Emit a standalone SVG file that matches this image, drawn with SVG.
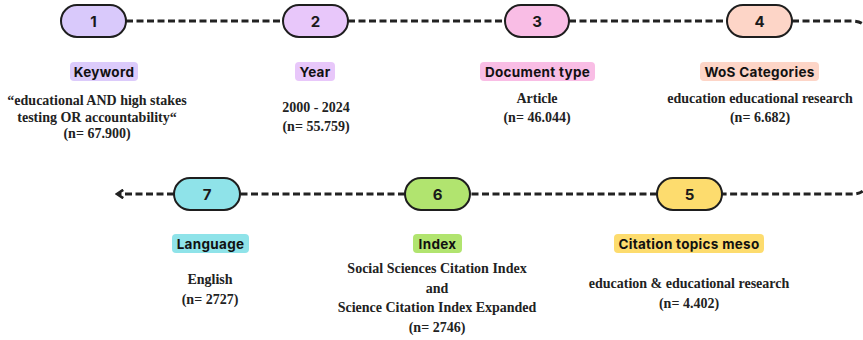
<svg xmlns="http://www.w3.org/2000/svg" width="863" height="340" viewBox="0 0 863 340">
<style>
.pill{stroke:#1e1e1e;stroke-width:2}
.num{font-family:Inter,"Noto Sans",sans-serif;font-weight:700;font-size:15px;fill:#1a1a1a;text-anchor:middle;dominant-baseline:central}
.lab{font-family:Inter,"Noto Sans",sans-serif;font-weight:700;font-size:13.5px;letter-spacing:0.3px;fill:#111;text-anchor:middle;dominant-baseline:central}
.body{font-family:"Liberation Serif",serif;font-weight:700;font-size:14px;fill:#222;text-anchor:middle}
.conn{fill:none;stroke:#222;stroke-width:3;stroke-dasharray:7 3.5}
</style>
<defs>
<marker id="arr" viewBox="0 0 10 10" refX="7" refY="5" markerWidth="3.5" markerHeight="3.5" orient="auto" markerUnits="strokeWidth">
<path d="M2 1 L8 5 L2 9" fill="none" stroke="#222" stroke-width="2.5"/>
</marker>
</defs>
<rect width="863" height="340" fill="#fff"/>
<g id="connectors">
<path class="conn" d="M126 21 H283 M348 21 H505 M569 21 H727"/>
<path class="conn" d="M792 21 H852 Q868 21 868 37 V178 Q868 194 852 194 H722"/>
<path class="conn" d="M657 194 H470 M405 194 H240"/>
<path class="conn" d="M174 194 H118" marker-end="url(#arr)"/>
</g>
<g id="node1">
<rect class="pill" x="61" y="5" width="65" height="32" rx="16" fill="#d9c9fb"/>
<text class="num" x="93.5" y="21">1</text>
<rect x="70" y="62" width="68" height="19" rx="4" fill="#dccbfb"/>
<text class="lab" x="104" y="71.5">Keyword</text>
<text class="body" x="97" y="105">“educational AND high stakes</text>
<text class="body" x="97" y="122">testing OR accountability“</text>
<text class="body" x="97" y="138">(n= 67.900)</text>
</g>
<g id="node2">
<rect class="pill" x="283" y="5" width="65" height="32" rx="16" fill="#e8c7fa"/>
<text class="num" x="315.5" y="21">2</text>
<rect x="295" y="62" width="40" height="19" rx="4" fill="#e8c7fa"/>
<text class="lab" x="315" y="71.5">Year</text>
<text class="body" x="316" y="112">2000 - 2024</text>
<text class="body" x="316" y="131">(n= 55.759)</text>
</g>
<g id="node3">
<rect class="pill" x="505" y="5" width="64" height="32" rx="16" fill="#f9bde5"/>
<text class="num" x="537" y="21">3</text>
<rect x="480" y="62" width="115" height="19" rx="4" fill="#f9bde5"/>
<text class="lab" x="537.5" y="71.5">Document type</text>
<text class="body" x="537" y="103">Article</text>
<text class="body" x="537" y="122">(n= 46.044)</text>
</g>
<g id="node4">
<rect class="pill" x="727" y="5" width="65" height="32" rx="16" fill="#fdd5c7"/>
<text class="num" x="759.5" y="21">4</text>
<rect x="700" y="62" width="119" height="19" rx="4" fill="#fdd5c7"/>
<text class="lab" x="759.5" y="71.5">WoS Categories</text>
<text class="body" x="760" y="103">education educational research</text>
<text class="body" x="760" y="122">(n= 6.682)</text>
</g>
<g id="node5">
<rect class="pill" x="657" y="178" width="65" height="32" rx="16" fill="#fddc6e"/>
<text class="num" x="689.5" y="194">5</text>
<rect x="614" y="234" width="150" height="19" rx="4" fill="#fddc6e"/>
<text class="lab" x="689" y="243.5">Citation topics meso</text>
<text class="body" x="689" y="288">education &amp; educational research</text>
<text class="body" x="689" y="308">(n= 4.402)</text>
</g>
<g id="node6">
<rect class="pill" x="405" y="178" width="65" height="32" rx="16" fill="#b1e46f"/>
<text class="num" x="437.5" y="194">6</text>
<rect x="413" y="234" width="49" height="19" rx="4" fill="#b1e46f"/>
<text class="lab" x="437.5" y="243.5">Index</text>
<text class="body" x="437" y="273">Social Sciences Citation Index</text>
<text class="body" x="437" y="293">and</text>
<text class="body" x="437" y="312">Science Citation Index Expanded</text>
<text class="body" x="437" y="332">(n= 2746)</text>
</g>
<g id="node7">
<rect class="pill" x="174" y="178" width="66" height="32" rx="16" fill="#8fe3e9"/>
<text class="num" x="207" y="194">7</text>
<rect x="172" y="234" width="77" height="19" rx="4" fill="#8fe3e9"/>
<text class="lab" x="210.5" y="243.5">Language</text>
<text class="body" x="210" y="284">English</text>
<text class="body" x="210" y="304">(n= 2727)</text>
</g>
</svg>
